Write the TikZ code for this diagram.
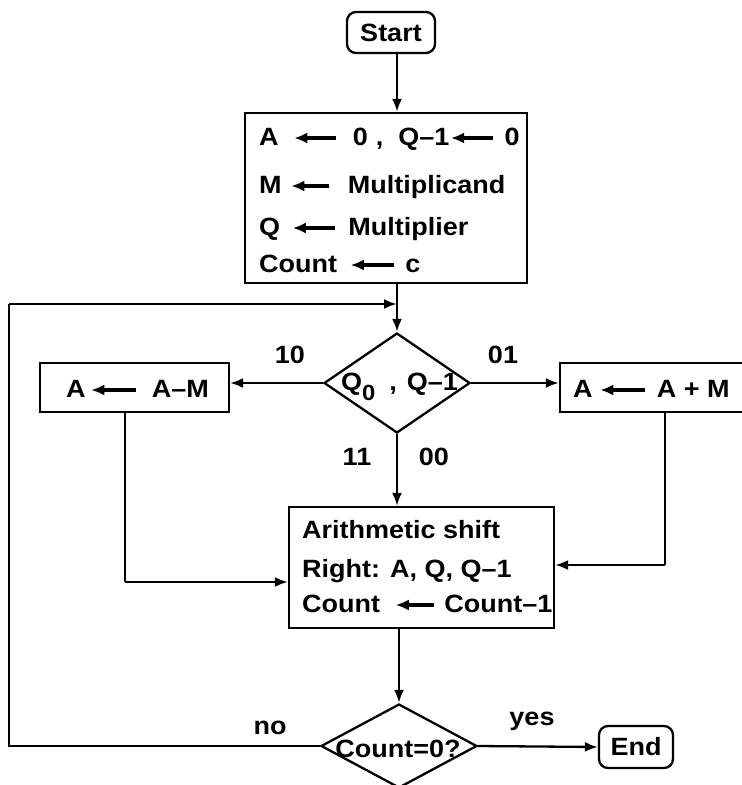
\documentclass[tikz,border=0pt]{standalone}
\usepackage{fontspec}
\setmainfont{Liberation Sans}[FakeStretch=1.08]
\usetikzlibrary{shapes.geometric,arrows.meta}
\newcommand\tarr[1][40pt]{\tikz[baseline=0pt]{\draw[line width=3.2pt,{Latex[length=13pt,width=11pt]}-] (0pt,7pt) -- (#1,7pt);}}
\begin{document}
\begin{tikzpicture}[x=1pt,y=-1pt,
  every node/.style={font=\fontsize{25}{29}\selectfont\bfseries, inner sep=0pt},
  box/.style={draw, line width=2.3pt, rectangle},
  term/.style={draw, line width=2.3pt, rectangle, rounded corners=9pt},
  dec/.style={draw, line width=2.3pt, diamond},
  txt/.style={anchor=base west},
  lab/.style={anchor=center},
  arr/.style={line width=2.3pt, -{Latex[length=13pt,width=10pt]}},
  ln/.style={line width=2.3pt}]
\useasboundingbox[fill=white] (0,0) rectangle (742,785);
\coordinate (ax) at (397,0);
% nodes
\node[term, minimum width=88pt, minimum height=41pt] (start) at (391,32.5) {Start};
\node[box, minimum width=282pt, minimum height=170pt] (init) at (386,198) {};
\node[txt] (i1) at (259,145) {A\hspace{14pt}\tarr[42pt]\hspace{15pt}0\hspace{8pt},\hspace{15pt}Q--1\tarr[42pt]\hspace{10pt}0};
\node[txt] (i2) at (259,193) {M\hspace{8pt}\tarr[38pt]\hspace{17pt}Multiplicand};
\node[txt] (i3) at (259,235) {Q\hspace{11pt}\tarr[42pt]\hspace{12pt}Multiplier};
\node[txt] (i4) at (259,272) {Count\hspace{12pt}\tarr[43pt]\hspace{10pt}c};
\node[dec, minimum width=146pt, minimum height=100pt] (d1) at (397,383) {};
\node[txt] (d1t) at (341,390) {Q\raisebox{-10pt}{\fontsize{22}{26}\selectfont 0}\hspace{14pt},\hspace{10pt}Q--1};
\node[box, minimum width=189pt, minimum height=49pt] (lb) at (134.5,387.5) {};
\node[txt] (lbt) at (66,397) {A\hspace{4pt}\tarr[45pt]\hspace{14pt}A--M};
\node[box, minimum width=240pt, minimum height=49pt] (rb) at (680,387.5) {};
\node[txt] (rbt) at (573,397) {A\hspace{6pt}\tarr[45pt]\hspace{10pt}A + M};
\node[box, minimum width=265pt, minimum height=121pt] (sh) at (421.5,567.5) {};
\node[txt] (s1) at (302,538) {Arithmetic shift};
\node[txt] (s2) at (302,577) {Right: A, Q, Q--1};
\node[txt] (s3) at (302,612) {Count\hspace{14pt}\tarr[38pt]\hspace{9pt}Count--1};
\node[dec, minimum width=156pt, minimum height=84pt] (d2) at (399,746) {};
\node[lab] (d2t) at (398,749) {Count=0?};
\node[term, minimum width=74pt, minimum height=42pt] (endn) at (636,747) {End};
% labels
\node[lab] (l10) at (290,355) {10};
\node[lab] (l01) at (503,355) {01};
\node[lab] (l11) at (357,457) {11};
\node[lab] (l00) at (434,457) {00};
\node[lab] (lno) at (270,728) {no};
\node[lab] (lyes) at (532,721) {yes};
% coordinates
\coordinate (join) at (397,304);
\coordinate (cA) at (9,746);
\coordinate (cB) at (9,304);
\coordinate (lx) at (125,582);
\coordinate (rx) at (665,565);
% connectors
\draw[arr] (start.south -| ax) -- (init.north -| ax);
\draw[arr] (init.south -| ax) -- (d1.north);
\draw[arr] (d1.west) -- (lb.east |- d1.west);
\draw[arr] (d1.east) -- (rb.west |- d1.east);
\draw[arr] (d1.south) -- (sh.north -| d1.south);
\draw[ln] (lb.south -| lx) -- (lx);
\draw[arr] (lx) -- (sh.west |- lx);
\draw[ln] (rb.south -| rx) -- (rx);
\draw[arr] (rx) -- (sh.east |- rx);
\draw[arr] (sh.south -| d2.north) -- (d2.north);
\draw[ln] (d2.west) -- (cA) -- (cB);
\draw[arr] (cB) -- (join);
\draw[arr] (d2.east) -- (endn.west);
\end{tikzpicture}
\end{document}
